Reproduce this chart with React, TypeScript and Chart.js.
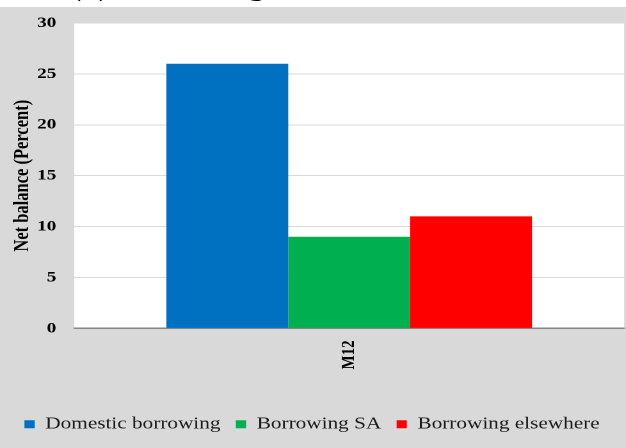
import React, { useEffect, useRef } from "react";
import { Chart, registerables } from "chart.js";

Chart.register(...registerables);

const categories = ["M12"];
const seriesNames = ["Domestic borrowing", "Borrowing SA", "Borrowing elsewhere"];
const domesticBorrowing = [26];
const borrowingSA = [9];
const borrowingElsewhere = [11];
const seriesColors = ["#0070C0", "#00B050", "#FF0000"];
const yTickValues = [0, 5, 10, 15, 20, 25, 30];
const yAxisTitle = "Net balance (Percent)";
const chartTitle = "(b) Borrowing volumes";

const SERIF = "'Liberation Serif', 'Times New Roman', serif";
const STRETCH = 1.28;
const INNER_W = 626 / STRETCH;

const plotBackground = {
  id: "plotBackground",
  beforeDraw(chart: any) {
    const { ctx, chartArea: a } = chart;
    ctx.save();
    ctx.fillStyle = "#ffffff";
    ctx.fillRect(a.left, a.top, a.right - a.left, a.bottom - a.top);
    ctx.restore();
  },
};

export default function App() {
  const canvasRef = useRef<HTMLCanvasElement | null>(null);

  useEffect(() => {
    if (!canvasRef.current) return;
    const chart = new Chart(canvasRef.current, {
      type: "bar",
      data: {
        labels: categories,
        datasets: [
          { label: seriesNames[0], data: domesticBorrowing, backgroundColor: seriesColors[0] },
          { label: seriesNames[1], data: borrowingSA, backgroundColor: seriesColors[1] },
          { label: seriesNames[2], data: borrowingElsewhere, backgroundColor: seriesColors[2] },
        ].map((d) => ({ ...d, barPercentage: 1, categoryPercentage: 0.665, borderWidth: 0 })),
      },
      options: {
        animation: false,
        responsive: true,
        maintainAspectRatio: false,
        devicePixelRatio: 2,
        layout: { padding: { top: 16, right: 1.5, bottom: 5.5, left: 0 } },
        plugins: {
          tooltip: { enabled: false },
          legend: {
            position: "bottom",
            labels: {
              boxWidth: 8,
              boxHeight: 8,
              padding: 12,
              color: "#1a1a1a",
              font: { family: SERIF, size: 16.6 },
            },
          },
        },
        scales: {
          x: {
            grid: { display: false, drawTicks: false },
            border: { display: true, color: "#868686", width: 1.5 },
            ticks: {
              maxRotation: 90,
              minRotation: 90,
              padding: 12,
              color: "#000",
              font: { family: SERIF, size: 15, weight: "bold" },
            },
            afterFit: (s: any) => {
              s.height = 75.5;
            },
          },
          y: {
            min: 0,
            max: 30,
            grid: { color: "#d9d9d9", lineWidth: 1, drawTicks: false },
            border: { display: false },
            ticks: {
              padding: 14,
              color: "#000",
              font: { family: SERIF, size: 15, weight: "bold" },
            },
            afterBuildTicks: (s: any) => {
              s.ticks = yTickValues.map((v) => ({ value: v }));
            },
            title: {
              display: true,
              text: yAxisTitle,
              color: "#000",
              padding: { top: 7.7, bottom: 0 },
              font: { family: SERIF, size: 16.5, weight: "bold" },
            },
            afterFit: (s: any) => {
              s.width = 58;
              s.paddingTop = 0;
            },
          },
        },
      },
      plugins: [plotBackground],
    });
    return () => chart.destroy();
  }, []);

  return (
    <div
      style={{
        position: "fixed",
        left: 0,
        top: 0,
        width: 626,
        height: 448,
        overflow: "hidden",
        background: "#ffffff",
      }}
    >
      <div
        style={{
          position: "absolute",
          left: 0,
          top: 0,
          width: INNER_W,
          height: 448,
          transform: `scaleX(${STRETCH})`,
          transformOrigin: "0 0",
        }}
      >
        <div
          style={{
            position: "absolute",
            left: 55,
            top: 0,
            width: 400,
            height: 7,
            overflow: "hidden",
          }}
        >
          <div
            style={{
              position: "absolute",
              left: 0,
              top: -25.5,
              whiteSpace: "nowrap",
              fontFamily: SERIF,
              fontWeight: "bold",
              fontSize: 25,
              lineHeight: "25px",
              color: "#000",
            }}
          >
            {chartTitle}
          </div>
        </div>
        <div
          style={{
            position: "absolute",
            left: 0,
            top: 7,
            width: INNER_W,
            height: 441,
            background: "#d9d9d9",
          }}
        >
          <canvas ref={canvasRef} />
        </div>
      </div>
    </div>
  );
}
